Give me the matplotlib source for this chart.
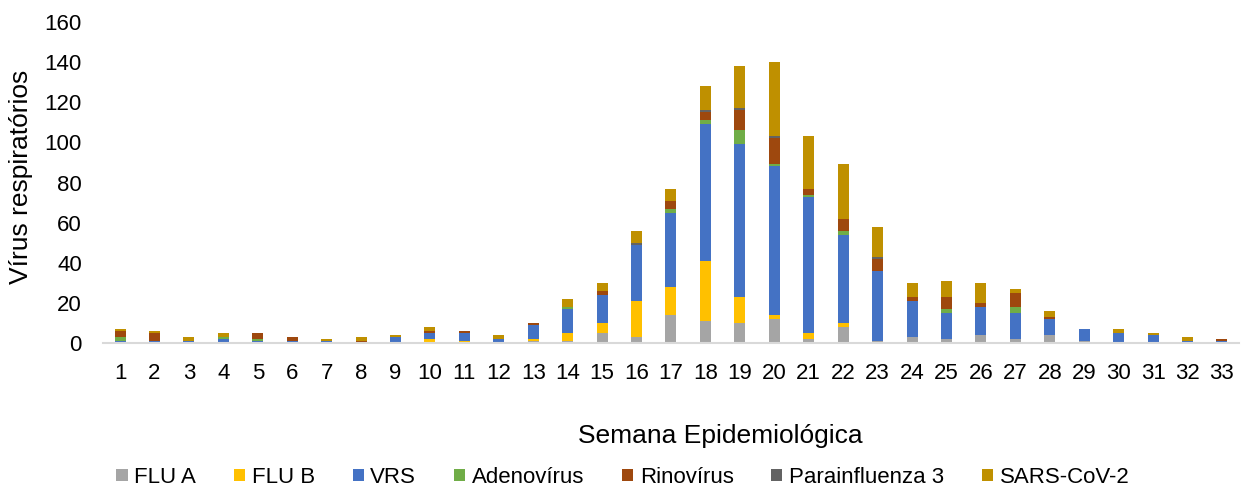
import numpy as np
from matplotlib import pyplot as plt

plt.rcParams["font.family"] = ["Liberation Sans", "DejaVu Sans"]

weeks = list(range(1, 34))

flu_a = [0, 0, 0, 0, 0, 0, 0, 0, 0, 0, 0, 0, 1, 1, 5, 3, 14, 11, 10, 12, 2, 8, 1,
         3, 2, 4, 2, 4, 1, 0, 0, 0, 0]
flu_b = [0, 0, 0, 0, 0, 0, 0, 0, 0, 2, 1, 0, 1, 4, 5, 18, 14, 30, 13, 2, 3, 2, 0,
         0, 0, 0, 0, 0, 0, 0, 0, 0, 0]
vrs = [1, 1, 1, 2, 1, 1, 1, 0, 3, 3, 4, 2, 7, 12, 14, 28, 37, 68, 76, 74, 68, 44, 35,
       18, 13, 14, 13, 8, 6, 5, 4, 1, 1]
adeno = [2, 0, 0, 1, 1, 0, 0, 0, 0, 0, 0, 0, 0, 1, 0, 0, 2, 2, 7, 1, 1, 2, 0,
         0, 2, 0, 3, 0, 0, 0, 0, 0, 0]
rino = [3, 4, 0, 0, 3, 2, 0, 1, 0, 1, 1, 0, 1, 0, 2, 0, 4, 4, 10, 13, 3, 6, 6,
        2, 6, 2, 7, 1, 0, 0, 0, 0, 1]
para3 = [0, 0, 0, 0, 0, 0, 0, 0, 0, 0, 0, 0, 0, 0, 0, 1, 0, 1, 1, 1, 0, 0, 1,
         0, 0, 0, 0, 0, 0, 0, 0, 0, 0]
sars = [1, 1, 2, 2, 0, 0, 1, 2, 1, 2, 0, 2, 0, 4, 4, 6, 6, 12, 21, 37, 26, 27, 15,
        7, 8, 10, 2, 3, 0, 2, 1, 2, 0]

series = [
    ("FLU A", flu_a, "#A5A5A5"),
    ("FLU B", flu_b, "#FFC000"),
    ("VRS", vrs, "#4472C4"),
    ("Adenovírus", adeno, "#70AD47"),
    ("Rinovírus", rino, "#9E480E"),
    ("Parainfluenza 3", para3, "#636363"),
    ("SARS-CoV-2", sars, "#BF9000"),
]

fig = plt.figure(figsize=(12.46, 4.88), dpi=100)
ax = fig.add_axes([0.0825, 0.297, 0.912, 0.658])

bottom = np.zeros(len(weeks))
for name, vals, color in series:
    ax.bar(weeks, vals, bottom=bottom, width=0.32, color=color, label=name)
    bottom += np.array(vals)

ax.set_xlim(0.5, 33.5)
ax.set_ylim(0, 160)
ax.set_yticks(range(0, 161, 20))
ax.set_xticks(weeks)
ax.tick_params(axis="both", length=0, labelsize=16, colors="black")
ax.tick_params(axis="x", pad=14)
ax.tick_params(axis="y", pad=15)
for s in ["top", "right", "left"]:
    ax.spines[s].set_visible(False)
ax.spines["bottom"].set_color("#D9D9D9")
ax.spines["bottom"].set_linewidth(1.5)

fig.text(0.017, 0.637, "Vírus respiratórios", rotation=90, fontsize=19,
         ha="center", va="center")
fig.text(0.578, 0.092, "Semana Epidemiológica", fontsize=19,
         ha="center", va="baseline")

fig.legend(loc="center", bbox_to_anchor=(0.5, 0.0215), ncol=7, frameon=False,
           fontsize=16, handlelength=0.5, handleheight=0.5, handletextpad=0.3,
           columnspacing=1.7)

fig.savefig("out.png", dpi=100)
